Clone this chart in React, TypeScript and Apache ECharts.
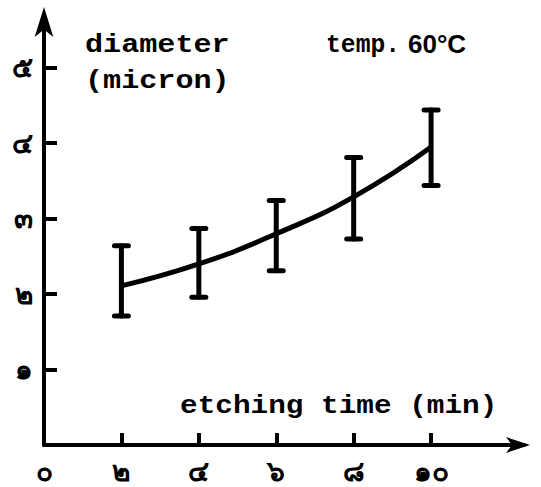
import React, { useEffect, useRef } from "react";
import * as echarts from "echarts";

const times = [2, 4, 6, 8, 10];
const means = [2.11, 2.4, 2.8, 3.29, 3.95];
const upper = [2.64, 2.87, 3.24, 3.81, 4.44];
const lower = [1.71, 1.96, 2.31, 2.73, 3.44];
const xTickValues = [2, 4, 6, 8, 10];
const xLabelValues = [0, 2, 4, 6, 8, 10];
const yTickValues = [1, 2, 3, 4, 5];
const thaiDigits = ["๐", "๑", "๒", "๓", "๔", "๕", "๖", "๗", "๘", "๙"];

const toThai = (v: number) =>
  String(v)
    .split("")
    .map((c) => thaiDigits[Number(c)] ?? c)
    .join("");

const FONT = "'Liberation Mono', 'DejaVu Sans Mono', monospace";
const MONO = `bold 26px ${FONT}`;

export default function App() {
  const ref = useRef<HTMLDivElement>(null);
  useEffect(() => {
    if (!ref.current) return;
    const chart = echarts.init(ref.current, null, { renderer: "svg" });
    const meanData = times.map((t, i) => [t, means[i]]);
    const errData = times.map((t, i) => [t, lower[i], upper[i]]);
    chart.setOption({
      animation: false,
      backgroundColor: "#ffffff",
      grid: { left: 44, right: 17, top: 15, bottom: 42 },
      xAxis: {
        type: "value",
        min: 0,
        max: 12.4,
        interval: 2,
        splitLine: { show: false },
        axisLine: {
          show: true,
          onZero: false,
          symbol: ["none", "arrow"],
          symbolSize: [12, 24],
          symbolOffset: [0, 6],
          lineStyle: { color: "#000", width: 4 },
        },
        axisTick: {
          show: true,
          inside: true,
          length: 12,
          customValues: xTickValues,
          lineStyle: { color: "#000", width: 4 },
        },
        axisLabel: {
          show: true,
          margin: 12,
          customValues: xLabelValues,
          formatter: (v: number) => toThai(v),
          color: "#000",
          fontSize: 28,
          fontWeight: "bold",
        },
      },
      yAxis: {
        type: "value",
        min: 0,
        max: 5.7,
        interval: 1,
        splitLine: { show: false },
        axisLine: {
          show: true,
          symbol: ["none", "arrow"],
          symbolSize: [14, 30],
          symbolOffset: [0, 8],
          lineStyle: { color: "#000", width: 4 },
        },
        axisTick: {
          show: true,
          inside: true,
          length: 13,
          customValues: yTickValues,
          lineStyle: { color: "#000", width: 4 },
        },
        axisLabel: {
          show: true,
          margin: 11,
          customValues: yTickValues,
          formatter: (v: number) => toThai(v),
          color: "#000",
          fontSize: 28,
          fontWeight: "bold",
        },
      },
      series: [
        {
          type: "line",
          data: meanData,
          smooth: 0.5,
          symbol: "none",
          lineStyle: { color: "#000", width: 5 },
          z: 3,
        },
        {
          type: "custom",
          data: errData,
          z: 4,
          renderItem: (params: any, api: any) => {
            const x = api.value(0);
            const lo = api.value(1);
            const hi = api.value(2);
            const pHi = api.coord([x, hi]);
            const pLo = api.coord([x, lo]);
            const w = 7;
            const st = { stroke: "#000", lineWidth: 5, lineCap: "round" };
            return {
              type: "group",
              children: [
                { type: "line", shape: { x1: pHi[0], y1: pHi[1], x2: pLo[0], y2: pLo[1] }, style: st },
                { type: "line", shape: { x1: pHi[0] - w, y1: pHi[1], x2: pHi[0] + w, y2: pHi[1] }, style: st },
                { type: "line", shape: { x1: pLo[0] - w, y1: pLo[1], x2: pLo[0] + w, y2: pLo[1] }, style: st },
              ],
            };
          },
        },
      ],
      graphic: [
        {
          type: "text",
          x: 85,
          y: 45,
          scaleX: 1.16,
          style: { text: "diameter", font: MONO, fill: "#000", verticalAlign: "middle" },
        },
        {
          type: "text",
          x: 326,
          y: 45,
          scaleX: 0.95,
          style: { text: "temp.", font: MONO, fill: "#000", verticalAlign: "middle" },
        },
        {
          type: "text",
          x: 408,
          y: 44,
          style: {
            text: "60°C",
            font: "bold 26px 'Liberation Sans', sans-serif",
            fill: "#000",
            verticalAlign: "middle",
          },
        },
        {
          type: "text",
          x: 85,
          y: 81,
          scaleX: 1.16,
          style: { text: "(micron)", font: MONO, fill: "#000", verticalAlign: "middle" },
        },
        {
          type: "text",
          x: 180,
          y: 406,
          scaleX: 1.13,
          style: { text: "etching time (min)", font: MONO, fill: "#000", verticalAlign: "middle" },
        },
      ],
    });
    return () => chart.dispose();
  }, []);
  return (
    <div
      ref={ref}
      style={{ position: "fixed", left: 0, top: 0, width: 541, height: 487 }}
    />
  );
}
